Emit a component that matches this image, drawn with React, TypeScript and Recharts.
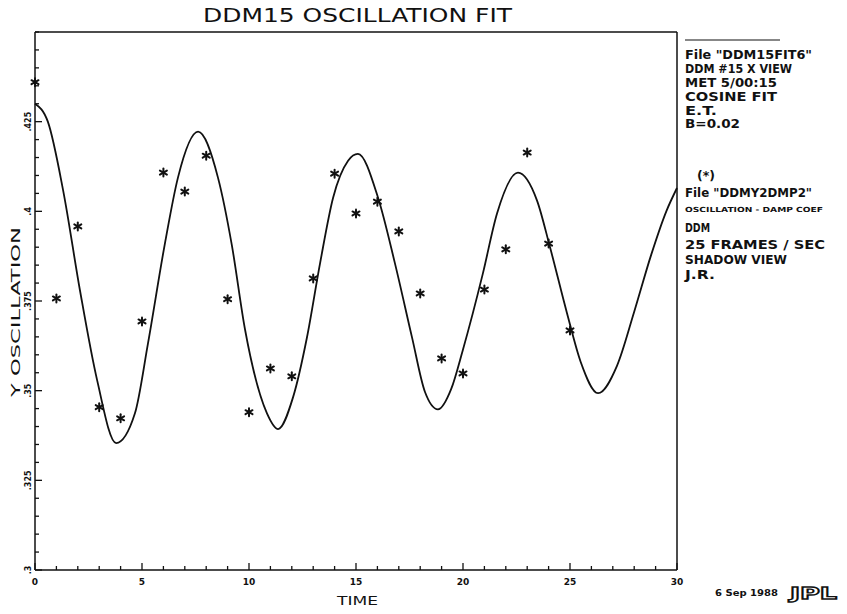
import React from "react";
import { ComposedChart, Line, Scatter, XAxis, YAxis } from "recharts";

// frame samples (t = 0..25) with their y oscillation reading
const sampleTimes = [0, 1, 2, 3, 4, 5, 6, 7, 8, 9, 10, 11, 12, 13, 14, 15, 16, 17, 18, 19, 20, 21, 22, 23, 24, 25];
const sampleValues = [
  0.436, 0.3757, 0.3958, 0.3454, 0.3423, 0.3693, 0.4108, 0.4055, 0.4155, 0.3755,
  0.344, 0.3562, 0.354, 0.3813, 0.4105, 0.3994, 0.4027, 0.3944, 0.3771, 0.359,
  0.3548, 0.3782, 0.3894, 0.4164, 0.391, 0.3668,
];

// cosine fit curve, traced along its length
const fitTimes = [
  0, 0.6, 1.31, 2.1, 2.9, 3.79, 4.67, 5.28, 6.07, 6.68, 7.62, 8.55, 9.2, 9.81, 10.84,
  11.36, 12.06, 12.71, 13.32, 13.93, 14.63, 15.09, 16.03, 16.82, 17.62, 18.22, 18.83,
  19.45, 20.0, 20.93, 21.59, 22.57, 23.46, 24.07, 24.86, 25.5, 26.31, 27.2, 28.0, 28.8,
  29.5, 30,
];
const fitValues = [
  0.43, 0.425, 0.406, 0.378, 0.353, 0.3354, 0.3437, 0.3632, 0.391, 0.4094, 0.4222, 0.4094,
  0.3905, 0.3672, 0.3437, 0.3393, 0.3482, 0.3649, 0.3855, 0.4038, 0.4141,
  0.416, 0.4038, 0.3855, 0.3648, 0.3497, 0.3448, 0.3505, 0.3615, 0.3827, 0.3994,
  0.4108, 0.403, 0.3899, 0.3716, 0.358, 0.3493, 0.357, 0.372, 0.388, 0.4, 0.4065,
];

const xMajorTicks = [0, 5, 10, 15, 20, 25, 30];
const yMajorTicks = [0.3, 0.325, 0.35, 0.375, 0.4, 0.425];
const xTicks = Array.from({ length: 31 }, (_, i) => i);
const yTicks = Array.from({ length: 31 }, (_, i) => +(0.3 + i * 0.005).toFixed(3));

const fitNotes = ['File "DDM15FIT6"', "DDM #15 X VIEW", "MET 5/00:15", "COSINE FIT", "E.T.", "B=0.02"];
const sampleNotes = ['File "DDMY2DMP2"', "OSCILLATION - DAMP COEF", "DDM", "25 FRAMES / SEC", "SHADOW VIEW", "J.R."];

const fitData = fitTimes.map((t, i) => ({ t, v: fitValues[i] }));
const sampleData = sampleTimes.map((t, i) => ({ t, v: sampleValues[i] }));

const INK = "#111";
const FONT = "DejaVu Sans";

const isMajorY = (v: number) => yMajorTicks.some((m) => Math.abs(m - v) < 1e-6);
const fmtY = (v: number) => String(+v.toFixed(3)).replace(/^0/, "");

function BottomTick({ x, y, payload }: any) {
  const major = xMajorTicks.includes(payload.value);
  return (
    <g>
      <line x1={x} y1={y} x2={x} y2={y - (major ? 7 : 4)} stroke={INK} strokeWidth={1.3} />
      {major && (
        <text x={x} y={y + 15} textAnchor="middle" fontSize={9} fontWeight="bold" fill={INK} fontFamily={FONT}>
          {payload.value}
        </text>
      )}
    </g>
  );
}

function TopTick({ x, y, payload }: any) {
  const major = xMajorTicks.includes(payload.value);
  return <line x1={x} y1={y} x2={x} y2={y + (major ? 7 : 4)} stroke={INK} strokeWidth={1.3} />;
}

function LeftTick({ x, y, payload }: any) {
  const major = isMajorY(payload.value);
  return (
    <g>
      <line x1={x} y1={y} x2={x + (major ? 7 : 4)} y2={y} stroke={INK} strokeWidth={1.3} />
      {major && (
        <text
          x={x - 4}
          y={y}
          transform={`rotate(-90, ${x - 4}, ${y})`}
          textAnchor="middle"
          fontSize={8}
          fontWeight="bold"
          fill={INK}
          fontFamily={FONT}
        >
          {fmtY(payload.value)}
        </text>
      )}
    </g>
  );
}

function RightTick({ x, y, payload }: any) {
  const major = isMajorY(payload.value);
  return <line x1={x} y1={y} x2={x - (major ? 7 : 4)} y2={y} stroke={INK} strokeWidth={1.3} />;
}

function Asterisk({ cx, cy }: any) {
  if (cx == null || cy == null) return null;
  return (
    <g stroke={INK} strokeWidth={2} strokeLinecap="round">
      <line x1={cx} y1={cy - 4} x2={cx} y2={cy + 4} />
      <line x1={cx - 3.5} y1={cy - 2} x2={cx + 3.5} y2={cy + 2} />
      <line x1={cx - 3.5} y1={cy + 2} x2={cx + 3.5} y2={cy - 2} />
    </g>
  );
}

const noteStyle = { fontFamily: FONT, fontWeight: "bold" as const, fill: INK };

function Annotations() {
  const fitY = [59, 73, 87, 101, 115, 128];
  const fitLen = [127, 107, 92, 92, 32, 55];
  const sampleY = [197, 212, 232, 249, 264, 279];
  const sampleLen = [127, 138, 25, 140, 102, 30];
  return (
    <svg width={847} height={614} style={{ position: "absolute", left: 0, top: 0, pointerEvents: "none" }}>
      <text x={203} y={22} fontSize={19} fontFamily={FONT} fill={INK} textLength={309} lengthAdjust="spacingAndGlyphs">
        DDM15 OSCILLATION FIT
      </text>
      <text x={337} y={605} fontSize={13} fontFamily={FONT} fill={INK} textLength={41} lengthAdjust="spacingAndGlyphs">
        TIME
      </text>
      <text
        x={0}
        y={0}
        transform="translate(20, 312) rotate(-90)"
        textAnchor="middle"
        fontSize={13}
        fontFamily={FONT}
        fill={INK}
        textLength={170}
        lengthAdjust="spacingAndGlyphs"
      >
        Y OSCILLATION
      </text>

      <line x1={685} y1={40} x2={780} y2={40} stroke={INK} strokeWidth={1.2} />
      {fitNotes.map((s, i) => (
        <text key={s} x={685} y={fitY[i]} fontSize={12} {...noteStyle} textLength={fitLen[i]} lengthAdjust="spacingAndGlyphs">
          {s}
        </text>
      ))}
      <text x={697} y={180} fontSize={12} {...noteStyle} textLength={18} lengthAdjust="spacingAndGlyphs">
        (*)
      </text>
      {sampleNotes.map((s, i) => (
        <text
          key={s}
          x={685}
          y={sampleY[i]}
          fontSize={i === 1 ? 7 : 12}
          {...noteStyle}
          textLength={sampleLen[i]}
          lengthAdjust="spacingAndGlyphs"
        >
          {s}
        </text>
      ))}

      <text x={715} y={596} fontSize={8} {...noteStyle} textLength={63} lengthAdjust="spacingAndGlyphs">
        6 Sep 1988
      </text>
      <text
        x={790}
        y={599}
        fontSize={16}
        fontFamily={FONT}
        fontWeight="bold"
        fill="#fff"
        stroke={INK}
        strokeWidth={1.3}
        textLength={47}
        lengthAdjust="spacingAndGlyphs"
      >
        JPL
      </text>
    </svg>
  );
}

export default function App() {
  return (
    <div style={{ position: "absolute", left: 0, top: 0, width: 847, height: 614, background: "#fff" }}>
      <ComposedChart width={847} height={614} margin={{ top: 30, right: 160, bottom: 14, left: 5 }}>
        <XAxis
          dataKey="t"
          type="number"
          domain={[0, 30]}
          ticks={xTicks}
          interval={0}
          height={30}
          tickSize={0}
          tickMargin={0}
          axisLine={{ stroke: INK, strokeWidth: 1.5 }}
          tickLine={false}
          tick={(p: any) => <BottomTick {...p} />}
        />
        <XAxis
          xAxisId="top"
          orientation="top"
          dataKey="t"
          type="number"
          domain={[0, 30]}
          ticks={xTicks}
          interval={0}
          height={2}
          tickSize={0}
          tickMargin={0}
          axisLine={{ stroke: INK, strokeWidth: 1.5 }}
          tickLine={false}
          tick={(p: any) => <TopTick {...p} />}
        />
        <YAxis
          type="number"
          domain={[0.3, 0.45]}
          ticks={yTicks}
          interval={0}
          width={30}
          tickSize={0}
          tickMargin={0}
          axisLine={{ stroke: INK, strokeWidth: 1.5 }}
          tickLine={false}
          tick={(p: any) => <LeftTick {...p} />}
        />
        <YAxis
          yAxisId="right"
          orientation="right"
          type="number"
          domain={[0.3, 0.45]}
          ticks={yTicks}
          interval={0}
          width={10}
          tickSize={0}
          tickMargin={0}
          axisLine={{ stroke: INK, strokeWidth: 1.5 }}
          tickLine={false}
          tick={(p: any) => <RightTick {...p} />}
        />
        <Line
          data={fitData}
          dataKey="v"
          type="monotone"
          stroke={INK}
          strokeWidth={1.8}
          dot={false}
          activeDot={false}
          isAnimationActive={false}
        />
        <Scatter data={sampleData} dataKey="v" shape={(p: any) => <Asterisk {...p} />} isAnimationActive={false} />
      </ComposedChart>
      <Annotations />
    </div>
  );
}
